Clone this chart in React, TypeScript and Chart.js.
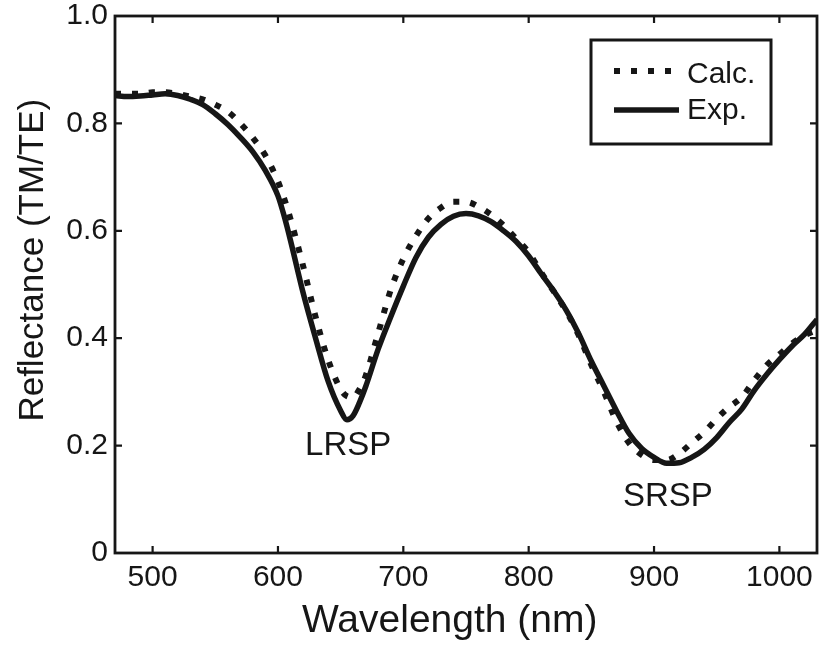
import React, { useEffect, useRef } from "react";
import { Chart, registerables } from "chart.js";

Chart.register(...registerables);

const wavelengths = [
  470, 480, 490, 500, 510, 520, 530, 540, 550, 560, 570, 580, 590, 600, 605, 610, 620, 630, 640, 650, 655,
  660, 665, 670, 680, 690, 700, 710, 720, 730, 740, 750, 760, 770, 780, 790, 800, 810, 820, 830, 840,
  850, 860, 870, 880, 890, 900, 910, 920, 930, 940, 950, 960, 970, 980, 990, 1000, 1010, 1020, 1030,
];

const expValues = [
  0.852, 0.85, 0.851, 0.853, 0.855, 0.852, 0.845, 0.835, 0.818, 0.798, 0.774, 0.747, 0.712, 0.665, 0.627, 0.582, 0.485, 0.4, 0.32, 0.265, 0.248,
  0.256, 0.28, 0.31, 0.38, 0.44, 0.497, 0.55, 0.588, 0.612, 0.627, 0.632, 0.628, 0.617, 0.6, 0.58, 0.553, 0.52, 0.488, 0.452, 0.408,
  0.357, 0.311, 0.265, 0.223, 0.195, 0.178, 0.167, 0.168, 0.178, 0.193, 0.215, 0.243, 0.268, 0.303, 0.333, 0.36, 0.385, 0.407, 0.435,
];

const calcValues = [
  0.855, 0.855, 0.855, 0.858, 0.858, 0.855, 0.85, 0.845, 0.835, 0.822, 0.8, 0.773, 0.74, 0.692, 0.66, 0.622, 0.535, 0.44, 0.36, 0.305, 0.292,
  0.29, 0.305, 0.33, 0.41, 0.49, 0.548, 0.59, 0.623, 0.643, 0.654, 0.654, 0.645, 0.63, 0.61, 0.585, 0.56, 0.522, 0.487, 0.45, 0.405,
  0.35, 0.3, 0.245, 0.205, 0.183, 0.173, 0.173, 0.185, 0.205, 0.225, 0.25, 0.272, 0.29, 0.322, 0.35, 0.37, 0.39, 0.405, 0.415,
];

const seriesLabels = ["Calc.", "Exp."];
const xTickValues = [500, 600, 700, 800, 900, 1000];
const yTickValues = [0, 0.2, 0.4, 0.6, 0.8, 1.0];

const annotationLabels = ["LRSP", "SRSP"];
const annotationX = [656, 911];
const annotationY = [0.199, 0.104];

const FONT = "'Liberation Sans', Arial, Helvetica, sans-serif";
const INK = "#161616";

const decorPlugin = {
  id: "decor",
  afterDatasetsDraw(chart: any) {
    const { ctx, chartArea } = chart;
    const xs = chart.scales.x;
    const ys = chart.scales.y;
    const { left, right, top, bottom } = chartArea;
    ctx.save();
    // frame
    ctx.strokeStyle = INK;
    ctx.lineWidth = 2.8;
    ctx.setLineDash([]);
    ctx.strokeRect(left, top, right - left, bottom - top);
    // inward ticks on all four sides
    ctx.lineWidth = 2.2;
    const tl = 7;
    xTickValues.forEach((v) => {
      const px = xs.getPixelForValue(v);
      ctx.beginPath();
      ctx.moveTo(px, bottom);
      ctx.lineTo(px, bottom - tl);
      ctx.moveTo(px, top);
      ctx.lineTo(px, top + tl);
      ctx.stroke();
    });
    yTickValues.forEach((v) => {
      const py = ys.getPixelForValue(v);
      ctx.beginPath();
      ctx.moveTo(left, py);
      ctx.lineTo(left + tl, py);
      ctx.moveTo(right, py);
      ctx.lineTo(right - tl, py);
      ctx.stroke();
    });
    // annotations
    ctx.fillStyle = INK;
    ctx.font = `33px ${FONT}`;
    ctx.textAlign = "center";
    ctx.textBaseline = "middle";
    annotationLabels.forEach((t, i) => {
      ctx.fillText(t, xs.getPixelForValue(annotationX[i]), ys.getPixelForValue(annotationY[i]));
    });
    // legend
    const bx = right - 226;
    const by = top + 24;
    const bw = 180;
    const bh = 104;
    ctx.fillStyle = "#ffffff";
    ctx.fillRect(bx, by, bw, bh);
    ctx.strokeStyle = INK;
    ctx.lineWidth = 3;
    ctx.strokeRect(bx, by, bw, bh);
    const rows = [by + 31, by + 70];
    chart.data.datasets.forEach((ds: any, i: number) => {
      const y = rows[i];
      ctx.save();
      ctx.strokeStyle = ds.borderColor;
      ctx.lineWidth = ds.borderWidth;
      ctx.setLineDash(ds.borderDash || []);
      ctx.lineCap = "butt";
      ctx.beginPath();
      ctx.moveTo(bx + 23, y);
      ctx.lineTo(bx + 88, y);
      ctx.stroke();
      ctx.restore();
      ctx.fillStyle = INK;
      ctx.font = `30px ${FONT}`;
      ctx.textAlign = "left";
      ctx.textBaseline = "middle";
      ctx.fillText(ds.label, bx + 96, y + (i === 0 ? 4 : 1));
    });
    ctx.restore();
  },
};

export default function App() {
  const canvasRef = useRef<HTMLCanvasElement | null>(null);

  useEffect(() => {
    document.body.style.margin = "0";
    const canvas = canvasRef.current;
    if (!canvas) return;
    const chart = new Chart(canvas, {
      type: "line",
      data: {
        datasets: [
          {
            label: seriesLabels[0],
            data: wavelengths.map((x, i) => ({ x, y: calcValues[i] })),
            borderColor: INK,
            borderWidth: 6,
            borderDash: [6, 11],
            pointRadius: 0,
            cubicInterpolationMode: "monotone",
            fill: false,
          },
          {
            label: seriesLabels[1],
            data: wavelengths.map((x, i) => ({ x, y: expValues[i] })),
            borderColor: INK,
            borderWidth: 5.5,
            pointRadius: 0,
            cubicInterpolationMode: "monotone",
            fill: false,
          },
        ],
      },
      options: {
        responsive: false,
        animation: false,
        layout: { padding: { left: 0, right: 5, top: 16, bottom: 0 } },
        plugins: {
          legend: { display: false },
          tooltip: { enabled: false },
        },
        scales: {
          x: {
            type: "linear",
            min: 470,
            max: 1030,
            grid: { display: false, drawTicks: false },
            border: { display: false },
            afterFit: (scale: any) => {
              scale.height = 92;
              scale.paddingLeft = 0;
              scale.paddingRight = 0;
            },
            afterBuildTicks: (scale: any) => {
              scale.ticks = xTickValues.map((v) => ({ value: v }));
            },
            ticks: {
              padding: 7,
              color: INK,
              font: { family: FONT, size: 30 },
              maxRotation: 0,
              autoSkip: false,
              callback: (v: any) => String(v),
            },
            title: {
              display: true,
              text: "Wavelength (nm)   ",
              color: INK,
              font: { family: FONT, size: 39 },
              padding: { top: 0, bottom: 0 },
            },
          },
          y: {
            min: 0,
            max: 1,
            grid: { display: false, drawTicks: false },
            border: { display: false },
            afterFit: (scale: any) => {
              scale.width = 115;
              scale.paddingTop = 0;
              scale.paddingBottom = 0;
            },
            afterBuildTicks: (scale: any) => {
              scale.ticks = yTickValues.map((v) => ({ value: v }));
            },
            ticks: {
              padding: 7,
              color: INK,
              font: { family: FONT, size: 30 },
              autoSkip: false,
              callback: (v: any) => (Number(v) === 0 ? "0" : Number(v).toFixed(1)),
            },
            title: {
              display: true,
              text: "     Reflectance (TM/TE)",
              color: INK,
              font: { family: FONT, size: 35 },
              padding: { top: 12, bottom: 0 },
            },
          },
        },
      },
      plugins: [decorPlugin],
    });
    return () => chart.destroy();
  }, []);

  return (
    <div style={{ position: "absolute", left: 0, top: 0, width: 822, height: 645, background: "#fff" }}>
      <canvas ref={canvasRef} width={822} height={645} style={{ display: "block" }} />
    </div>
  );
}
